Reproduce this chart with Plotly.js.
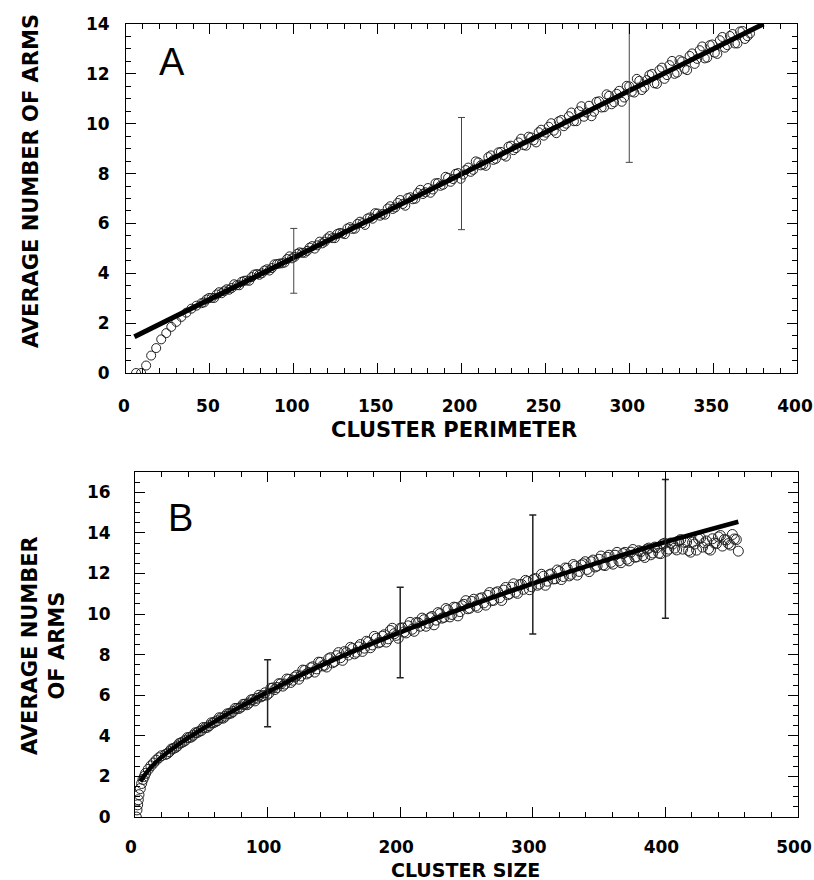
<!DOCTYPE html>
<html>
<head>
<meta charset="utf-8">
<script src="https://cdn.plot.ly/plotly-3.0.1.min.js"></script>
<style>html,body{margin:0;padding:0;background:#fff;}#chart{width:814px;height:880px;}</style>
</head>
<body>
<div id="chart"></div>
<script>
// ---------- Panel A: average number of arms vs cluster perimeter ----------
const perimX = [6,9,12,15,18,21,24,27,30,33,36,39,42,
  45,48,51,54,57,60,63,66,69,72,75,78,81,84,87,90,93,96,99,102,105,108,111,114,117,120,123,126,129,132,
  135,138,141,144,147,150,153,156,159,162,165,168,171,174,177,180,183,186,189,192,195,198,201,204,207,210,
  213,216,219,222,225,228,231,234,237,240,243,246,249,252,255,258,261,264,267,270,273,276,279,282,285,288,
  291,294,297,300,303,306,309,312,315,318,321,324,327,330,333,336,339,342,345,348,351,354,357,360,363,366,369,372];
const armsA = [0,0,0.3,0.7,1.0,1.35,1.6,1.85,2.05,2.25,2.42,2.58,2.7,
  2.80,2.95,3.01,3.15,3.20,3.36,3.41,3.52,3.66,3.71,
  3.85,3.97,4.00,4.16,4.21,4.37,4.40,4.57,4.60,4.78,
  4.82,4.90,5.09,5.12,5.20,5.40,5.41,5.58,5.60,5.80,
  5.78,5.98,6.01,6.20,6.19,6.40,6.38,6.60,6.58,6.82,
  6.78,7.02,6.97,7.22,7.18,7.42,7.36,7.62,7.55,7.83,
  7.78,8.02,7.96,8.24,8.15,8.45,8.36,8.66,8.55,8.85,
  8.74,9.08,8.94,9.25,9.14,9.48,9.33,9.66,9.52,9.88,
  9.72,10.10,9.90,10.30,10.10,10.50,10.28,10.72,10.48,10.90,
  10.66,11.12,10.86,11.32,11.05,11.50,11.25,11.72,11.45,11.95,
  11.62,12.15,11.80,12.35,12.00,12.55,12.20,12.72,12.40,12.95,
  12.62,13.15,12.85,13.35,13.05,13.52,13.22,13.70,13.40,13.62];
const perimX2 = [46.5,49.5,52.5,55.5,58.5,61.5,64.5,67.5,70.5,73.5,
  76.5,79.5,82.5,85.5,88.5,91.5,94.5,97.5,100.5,103.5,
  106.5,109.5,112.5,115.5,118.5,121.5,124.5,127.5,130.5,133.5,
  136.5,139.5,142.5,145.5,148.5,151.5,154.5,157.5,160.5,163.5,
  166.5,169.5,172.5,175.5,178.5,181.5,184.5,187.5,190.5,193.5,
  196.5,199.5,202.5,205.5,208.5,211.5,214.5,217.5,220.5,223.5,
  226.5,229.5,232.5,235.5,238.5,241.5,244.5,247.5,250.5,253.5,
  256.5,259.5,262.5,265.5,268.5,271.5,274.5,277.5,280.5,283.5,
  286.5,289.5,292.5,295.5,298.5,301.5,304.5,307.5,310.5,313.5,
  316.5,319.5,322.5,325.5,328.5,331.5,334.5,337.5,340.5,343.5,
  346.5,349.5,352.5,355.5,358.5,361.5,364.5,367.5,370.5];
const armsA2 = [2.83,3.01,3.01,3.24,3.28,3.34,3.56,3.52,3.70,3.70,
  3.95,3.94,4.11,4.11,4.36,4.39,4.43,4.68,4.66,4.84,
  4.82,5.03,4.99,5.27,5.27,5.49,5.41,5.62,5.57,5.85,
  5.79,6.07,5.94,6.24,6.41,6.31,6.35,6.69,6.64,6.94,
  6.71,7.05,6.99,7.35,7.25,7.23,7.61,7.51,7.87,7.67,
  7.99,7.79,8.14,8.07,8.49,8.33,8.31,8.73,8.59,8.87,
  8.68,9.12,9.02,9.40,9.12,9.45,9.25,9.76,9.64,10.02,
  9.62,10.15,10.00,10.45,10.10,10.70,10.45,10.30,10.88,10.65,
  11.18,10.78,11.20,10.88,11.52,11.28,11.80,11.35,11.75,12.00,
  11.60,12.25,11.95,12.52,12.05,12.50,12.15,12.82,12.60,13.10,
  12.65,13.18,12.80,13.48,13.15,13.60,13.22,13.72,13.51];
const fitAx = [5, 380];
const fitAy = [1.45, 14.0];
const errAx = [100, 200, 300];
const errAy = [4.5, 8.0, 11.25];
const errAe = [1.3, 2.25, 2.8];

// ---------- Panel B: average number of arms vs cluster size ----------
const sizeX = [1,1.5,2,2.5,3,4,5,6,7,8,10,12,14,16,18,20,
  23,26,29,32,35,38,41,44,47,50,53,56,59,62,65,68,71,74,77,80,83,86,89,92,95,98,101,104,107,110,
  113,116,119,122,125,128,131,134,137,140,143,146,149,152,155,158,161,164,167,170,173,176,179,182,185,188,191,194,197,200,
  203,206,209,212,215,218,221,224,227,230,233,236,239,242,245,248,251,254,257,260,263,266,269,272,275,278,281,284,287,290,
  293,296,299,302,305,308,311,314,317,320,323,326,329,332,335,338,341,344,347,350,353,356,359,362,365,368,371,374,377,380,
  383,386,389,392,395,398,401,404,407,410,413,416,419,422,425,428,431,434,437,440,443,446,449,452,455];
const armsB = [0,0.35,0.6,0.85,1.1,1.4,1.65,1.85,2.0,2.15,2.35,2.52,2.66,2.8,2.92,3.02,
  3.08,3.22,3.38,3.50,3.66,3.78,3.92,4.03,4.16,4.26,
  4.40,4.50,4.64,4.74,4.88,4.96,5.10,5.20,5.35,5.42,
  5.56,5.62,5.79,5.85,5.92,6.12,6.10,6.36,6.38,6.56,
  6.55,6.78,6.74,6.98,6.95,7.22,7.12,7.40,7.30,7.62,
  7.48,7.80,7.60,7.95,7.85,8.15,7.98,8.30,8.12,8.50,
  8.32,8.62,8.48,8.80,8.62,8.98,8.78,9.30,8.95,9.30,
  9.12,9.42,9.25,9.58,9.40,9.72,9.55,9.88,9.70,10.02,
  9.84,10.20,9.98,10.32,10.12,10.48,10.26,10.62,10.40,10.76,
  10.55,10.92,10.66,11.05,10.80,11.18,10.95,11.32,11.08,11.45,
  11.22,11.60,11.35,11.75,11.48,11.86,11.62,11.98,11.74,12.10,
  11.85,12.25,11.96,12.36,12.10,12.48,12.20,12.58,12.32,12.70,
  12.42,12.80,12.55,12.90,12.62,12.98,12.70,13.05,12.80,13.12,
  12.88,13.20,12.92,13.30,13.00,13.45,13.10,13.50,13.25,13.60,
  13.20,13.55,13.05,13.45,13.70,13.30,13.60,13.15,13.50,13.80,
  13.35,13.65,13.40,13.70,13.10];
const sizeX2 = [24.5,27.5,30.5,33.5,36.5,39.5,42.5,45.5,48.5,51.5,
  54.5,57.5,60.5,63.5,66.5,69.5,72.5,75.5,78.5,81.5,
  84.5,87.5,90.5,93.5,96.5,99.5,102.5,105.5,108.5,111.5,
  114.5,117.5,120.5,123.5,126.5,129.5,132.5,135.5,138.5,141.5,
  144.5,147.5,150.5,153.5,156.5,159.5,162.5,165.5,168.5,171.5,
  174.5,177.5,180.5,183.5,186.5,189.5,192.5,195.5,198.5,201.5,
  204.5,207.5,210.5,213.5,216.5,219.5,222.5,225.5,228.5,231.5,
  234.5,237.5,240.5,243.5,246.5,249.5,252.5,255.5,258.5,261.5,
  264.5,267.5,270.5,273.5,276.5,279.5,282.5,285.5,288.5,291.5,
  294.5,297.5,300.5,303.5,306.5,309.5,312.5,315.5,318.5,321.5,
  324.5,327.5,330.5,333.5,336.5,339.5,342.5,345.5,348.5,351.5,
  354.5,357.5,360.5,363.5,366.5,369.5,372.5,375.5,378.5,381.5,
  384.5,387.5,390.5,393.5,396.5,399.5,402.5,405.5,408.5,411.5,
  414.5,417.5,420.5,423.5,426.5,429.5,432.5,435.5,438.5,441.5,
  444.5,447.5,450.5,453.5];
const armsB2 = [3.13,3.35,3.42,3.63,3.71,3.91,3.94,4.15,4.22,4.41,
  4.42,4.64,4.69,4.89,4.87,5.08,5.12,5.35,5.35,5.55,
  5.53,5.77,5.72,6.00,5.98,6.01,6.34,6.28,6.57,6.45,
  6.80,6.63,6.90,6.79,7.24,7.05,7.35,7.14,7.63,7.45,
  7.39,7.85,7.66,8.10,7.72,8.10,8.36,8.04,8.38,8.16,
  8.66,8.34,8.90,8.58,8.91,8.62,9.19,9.03,8.81,9.32,
  9.07,9.59,9.15,9.57,9.80,9.40,9.82,9.47,10.07,9.80,
  10.27,9.86,10.34,9.91,10.41,10.66,10.29,10.73,10.33,10.80,
  10.44,11.06,10.68,11.10,10.67,11.31,11.00,11.49,11.02,11.46,
  11.66,11.20,11.71,11.42,11.96,11.42,11.94,11.73,12.17,11.70,
  12.27,11.88,12.44,11.92,12.42,12.58,12.09,12.66,12.37,12.86,
  12.39,12.90,12.46,13.04,12.53,13.04,12.62,13.18,12.82,13.08,
  12.79,13.25,13.01,13.27,12.98,13.49,13.20,13.45,13.16,13.67,
  13.53,13.13,13.54,13.15,13.75,13.51,13.21,13.71,13.47,13.87,
  13.67,13.47,13.92,13.67];
const fitBx = [4,6,10,15,20,30,40,50,60,80,100,125,150,175,200,250,300,350,400,455];
const fitBy = [1.75,1.95,2.3,2.65,2.95,3.45,3.9,4.3,4.7,5.45,6.15,7.0,7.75,8.45,9.1,10.35,11.5,12.55,13.55,14.55];
const errBx = [100, 200, 300, 400];
const errBy = [6.1, 9.09, 11.95, 13.21];
const errBe = [1.65, 2.23, 2.93, 3.42];

const xTicksA = [0,50,100,150,200,250,300,350,400];
const yTicksA = [0,2,4,6,8,10,12,14];
const xTicksB = [0,100,200,300,400,500];
const yTicksB = [0,2,4,6,8,10,12,14,16];

const tickFont = {family:'DejaVu Sans', size:17, weight:'bold', color:'#000'};
const titleFont = {family:'DejaVu Sans', size:21, weight:'bold', color:'#000'};
const circA = {symbol:'circle-open', size:9, color:'#222', line:{width:1, color:'#222'}};
const circB = {symbol:'circle-open', size:10, color:'#222', line:{width:1, color:'#222'}};

const traces = [
  {x: perimX, y: armsA, type:'scatter', mode:'markers', xaxis:'x', yaxis:'y', marker:circA},
  {x: perimX2, y: armsA2, type:'scatter', mode:'markers', xaxis:'x', yaxis:'y', marker:circA},
  {x: fitAx, y: fitAy, type:'scatter', mode:'lines', xaxis:'x', yaxis:'y',
   line:{color:'#000', width:5}},
  {x: errAx, y: errAy, type:'scatter', mode:'none', xaxis:'x', yaxis:'y',
   error_y:{type:'data', array: errAe, visible:true, color:'#444', thickness:1, width:3.5}},
  {x: sizeX, y: armsB, type:'scatter', mode:'markers', xaxis:'x2', yaxis:'y2', marker:circB},
  {x: sizeX2, y: armsB2, type:'scatter', mode:'markers', xaxis:'x2', yaxis:'y2', marker:circB},
  {x: fitBx, y: fitBy, type:'scatter', mode:'lines', xaxis:'x2', yaxis:'y2',
   line:{color:'#000', width:4.5, shape:'spline'}},
  {x: errBx, y: errBy, type:'scatter', mode:'none', xaxis:'x2', yaxis:'y2',
   error_y:{type:'data', array: errBe, visible:true, color:'#222', thickness:1.5, width:3.5}}
];

function axis(extra){
  return Object.assign({
    showline:true, linecolor:'#000', linewidth:1, mirror:'allticks',
    ticks:'inside', ticklen:10, tickwidth:1, tickcolor:'#000',
    showgrid:false, zeroline:false, tickfont:tickFont, tickmode:'array', fixedrange:true,
    ticklabeloverflow:'allow'
  }, extra);
}

const layout = {
  width:814, height:880, showlegend:false,
  paper_bgcolor:'#fff', plot_bgcolor:'#fff',
  margin:{l:0, r:0, t:0, b:0},
  xaxis: axis({domain:[126/814, 797/814], range:[0,400], tickvals:xTicksA, ticktext:xTicksA.map(String),
    anchor:'y', ticklabelstandoff:18, ticklabelshift:-2,
    minor:{ticks:'inside', ticklen:5, tickwidth:1, tickcolor:'#000', dtick:10, tick0:0, showgrid:false}}),
  yaxis: axis({domain:[1-373/880, 1-24/880], range:[0,14], tickvals:yTicksA, ticktext:yTicksA.map(String),
    anchor:'x', ticklabelstandoff:12,
    minor:{ticks:'inside', ticklen:5, tickwidth:1, tickcolor:'#000', dtick:0.5, tick0:0, showgrid:false}}),
  xaxis2: axis({domain:[135/814, 798/814], range:[0,500], tickvals:xTicksB, ticktext:xTicksB.map(String),
    anchor:'y2', ticklabelstandoff:15, ticklabelshift:-4,
    minor:{ticks:'inside', ticklen:5, tickwidth:1, tickcolor:'#000', dtick:20, tick0:0, showgrid:false}}),
  yaxis2: axis({domain:[1-817/880, 1-472/880], range:[0,17], tickvals:yTicksB, ticktext:yTicksB.map(String),
    anchor:'x2', ticklabelstandoff:20,
    minor:{ticks:'inside', ticklen:5, tickwidth:1, tickcolor:'#000', dtick:0.5, tick0:0, showgrid:false}}),
  annotations: [
    {text:'CLUSTER PERIMETER', xref:'paper', yref:'paper', x:454/814, y:1-430/880, xanchor:'center', yanchor:'middle', showarrow:false, font:titleFont},
    {text:'AVERAGE NUMBER OF ARMS', xref:'paper', yref:'paper', x:31/814, y:1-181/880, xanchor:'center', yanchor:'middle', textangle:-90, showarrow:false, font:titleFont},
    {text:'CLUSTER SIZE', xref:'paper', yref:'paper', x:465/814, y:1-870/880, xanchor:'center', yanchor:'middle', showarrow:false, font:{family:'DejaVu Sans', size:19, weight:'bold', color:'#000'}},
    {text:'AVERAGE NUMBER<br>OF ARMS', xref:'paper', yref:'paper', x:43/814, y:1-646/880, xanchor:'center', yanchor:'middle', textangle:-90, showarrow:false, font:titleFont},
    {text:'A', xref:'paper', yref:'paper', x:172/814, y:1-62/880, xanchor:'center', yanchor:'middle', showarrow:false, font:{family:'Liberation Sans', size:38, color:'#000'}},
    {text:'B', xref:'paper', yref:'paper', x:180/814, y:1-518/880, xanchor:'center', yanchor:'middle', showarrow:false, font:{family:'Liberation Sans', size:38, color:'#000'}}
  ]
};

Plotly.newPlot('chart', traces, layout, {staticPlot:true, displayModeBar:false});
</script>
</body>
</html>
